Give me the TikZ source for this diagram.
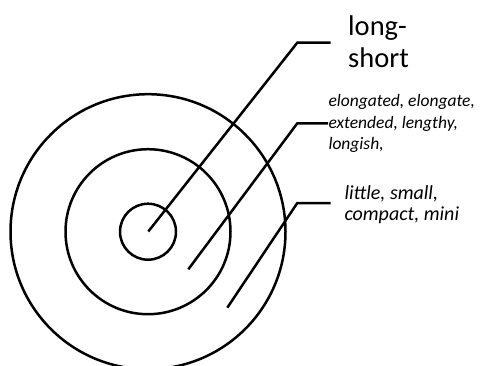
\documentclass[tikz,border=0pt]{standalone}
\usepackage{fontspec}
\setmainfont{Carlito}
\begin{document}
\begin{tikzpicture}[x=1pt,y=-1pt,
  ring/.style={draw=black,line width=2.5pt},
  leader/.style={draw=black,line width=2.5pt},
  bigtxt/.style={anchor=base west,inner sep=0pt,align=left,font=\fontsize{28.5}{32}\selectfont},
  midtxt/.style={anchor=base west,inner sep=0pt,align=left,font=\fontsize{17.5}{21.3}\selectfont\itshape},
  smalltxt/.style={anchor=base west,inner sep=0pt,align=left,font=\fontsize{20}{21.7}\selectfont\itshape}]
\useasboundingbox (0,0) rectangle (484,365);
\coordinate (c) at (148,231.7);
\path[ring] (c) circle[radius=28];
\path[ring] (c) circle[radius=82.5];
\path[ring] (c) circle[radius=137.5];
% leaders
\coordinate (s1) at (148.3,231.5);
\coordinate (k1) at (297.3,42.7);
\coordinate (e1) at (330.7,42.7);
\coordinate (s2) at (188.3,269.3);
\coordinate (k2) at (297.3,123.3);
\coordinate (e2) at (328,123.3);
\coordinate (s3) at (227.3,307.7);
\coordinate (k3) at (297.3,203);
\coordinate (e3) at (330.7,203);
\draw[leader] (s1) -- (k1) -- (e1);
\draw[leader] (s2) -- (k2) -- (e2);
\draw[leader] (s3) -- (k3) -- (e3);
% labels (anchored at the baseline of the last line)
\node[bigtxt] (t1) at (348,67) {long-\\short};
\node[midtxt] (t2) at (328.3,149.3) {elongated, elongate,\\extended, lengthy,\\longish,};
\node[smalltxt] (t3) at (344.3,220.7) {little, small,\\compact, mini};
\end{tikzpicture}
\end{document}
